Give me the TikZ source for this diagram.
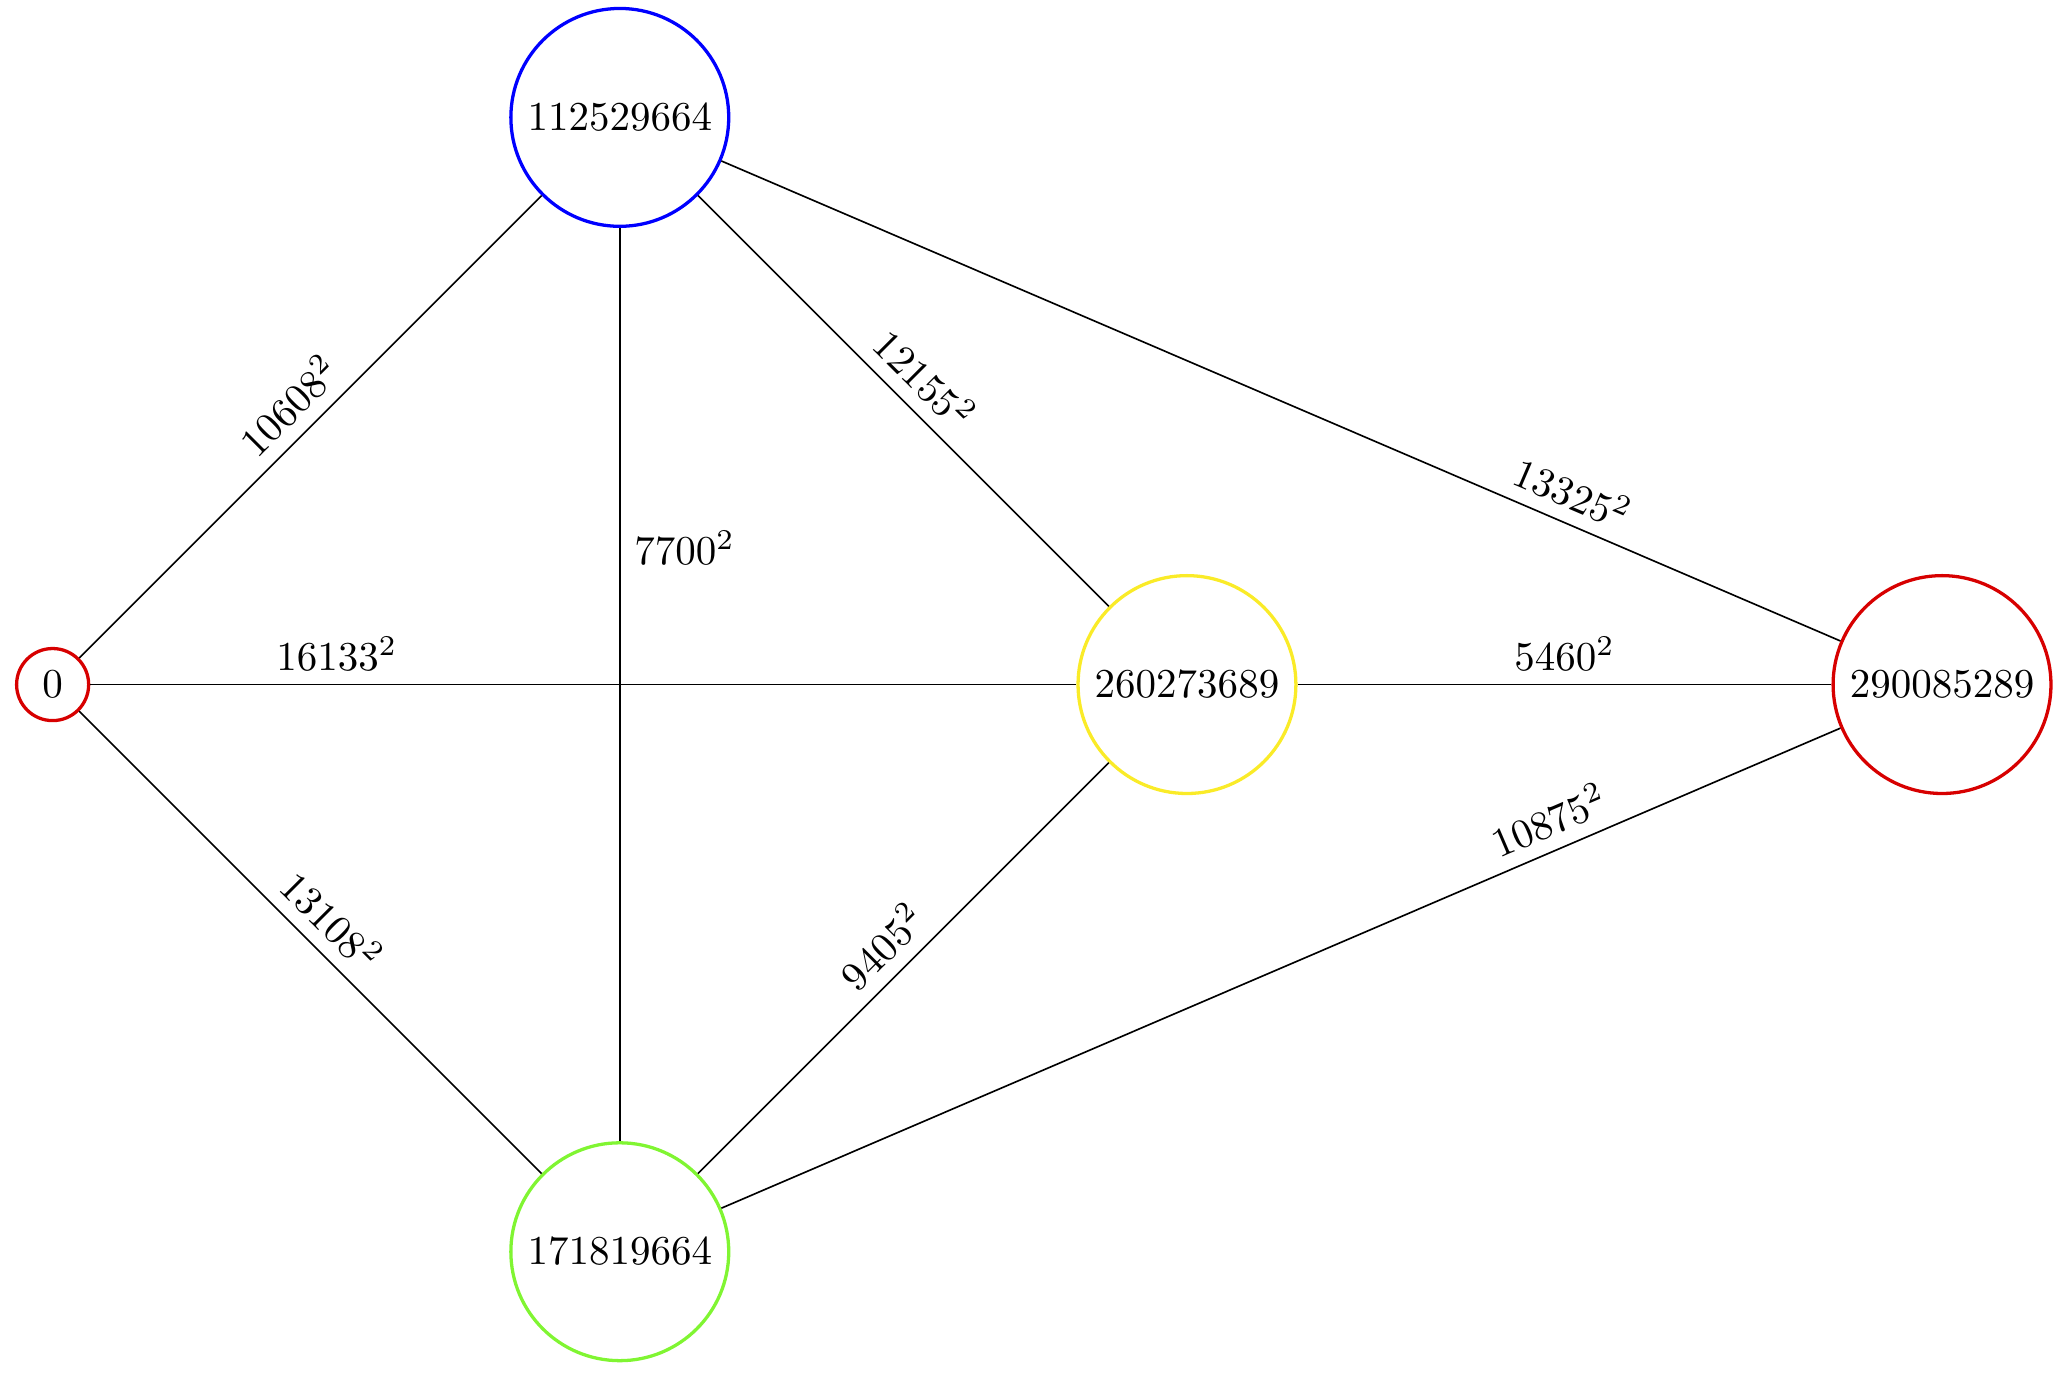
\documentclass[tikz,border=0pt]{standalone}
\usepackage{amsmath,amssymb}
\usepackage{tikz}
\usetikzlibrary{positioning}

\definecolor{vred}{RGB}{215,0,0}
\definecolor{vgreen}{RGB}{128,245,50}
\definecolor{vyellow}{RGB}{250,235,40}

\tikzset{
  vtx/.style={circle, draw, thick},
  wlab/.style={above, sloped}
}

\begin{document}
\begin{tikzpicture}
\useasboundingbox (-0.451,-5.908) rectangle (17.235,5.866);

\node[vtx, draw=vred] (a) at (0,0) {$0$};
\node[vtx, draw=blue] (b) at (4.86,4.86) {$112529664$};
\node[vtx, draw=vgreen] (c) at (4.86,-4.86) {$171819664$};
\node[vtx, draw=vyellow] (d) at (9.72,0) {$260273689$};
\node[vtx, draw=vred] (e) at (16.19,0) {$290085289$};

\draw (a) -- (b) node[midway, wlab] {$10608^2$};
\draw (a) -- (d) node[pos=0.25, above] {$16133^2$};
\draw (a) -- (c) node[midway, wlab] {$13108^2$};
\draw (b) -- (c) node[pos=0.35, right] {$7700^2$};
\draw (b) -- (d) node[midway, wlab] {$12155^2$};
\draw (b) -- (e) node[pos=0.75, wlab] {$13325^2$};
\draw (d) -- (e) node[midway, above] {$5460^2$};
\draw (c) -- (d) node[midway, wlab] {$9405^2$};
\draw (c) -- (e) node[pos=0.75, wlab] {$10875^2$};
\end{tikzpicture}
\end{document}
